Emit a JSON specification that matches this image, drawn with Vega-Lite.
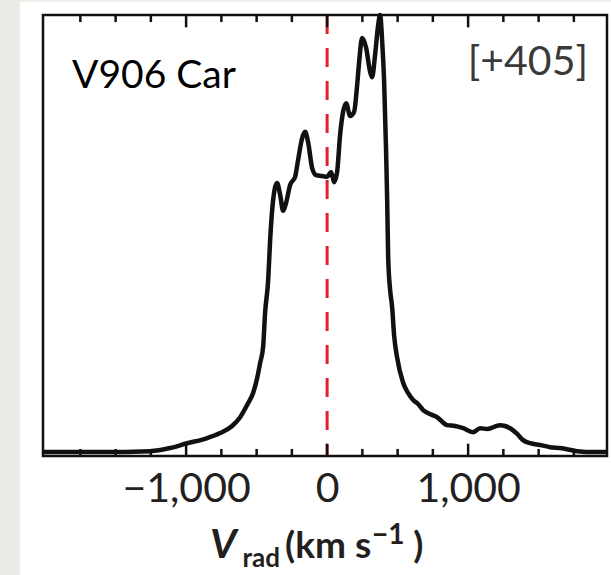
{
  "$schema": "https://vega.github.io/schema/vega-lite/v6.json",
  "width": 564,
  "height": 441,
  "autosize": "none",
  "padding": {"left": 43, "top": 15, "right": 4, "bottom": 119},
  "background": "#ECEBE6",
  "config": {"view": {"stroke": null, "fill": null}},
  "resolve": {"axis": {"x": "independent"}},
  "datasets": {
    "minorTicks": [
      {"tick": -1750}, {"tick": -1500}, {"tick": -1250}, {"tick": -750}, {"tick": -500}, {"tick": -250},
      {"tick": 250}, {"tick": 500}, {"tick": 750}, {"tick": 1250}, {"tick": 1500}, {"tick": 1750}
    ],
    "majorTicks": [{"tick": -1000}, {"tick": 0}, {"tick": 1000}]
  },
  "layer": [
    {
      "data": {"values": [{}]},
      "mark": {"type": "rect", "fill": "white", "stroke": null},
      "encoding": {
        "x": {"datum": -2177, "type": "quantitative", "axis": null, "scale": {"domain": [-2015, 1985], "nice": false}},
        "x2": {"datum": 2100},
        "y": {"datum": 1.03, "type": "quantitative", "axis": null, "scale": {"domain": [0, 1], "nice": false, "zero": false}},
        "y2": {"datum": -0.3}
      }
    },
    {
      "data": {"values": [{}]},
      "mark": {"type": "rule", "color": "#E3202A", "strokeWidth": 3, "strokeDash": [19, 14]},
      "encoding": {
        "x": {"datum": 0, "type": "quantitative", "axis": null}
      }
    },
    {
      "data": {"values": [
        {"v": -2015, "f": 0.009}, {"v": -1610, "f": 0.009}, {"v": -1255, "f": 0.011},
        {"v": -1113, "f": 0.018}, {"v": -993, "f": 0.029}, {"v": -865, "f": 0.039},
        {"v": -759, "f": 0.052}, {"v": -674, "f": 0.068}, {"v": -617, "f": 0.088},
        {"v": -567, "f": 0.116}, {"v": -525, "f": 0.143}, {"v": -496, "f": 0.177},
        {"v": -475, "f": 0.211}, {"v": -454, "f": 0.247}, {"v": -440, "f": 0.324},
        {"v": -418, "f": 0.399}, {"v": -404, "f": 0.49}, {"v": -383, "f": 0.58},
        {"v": -355, "f": 0.619}, {"v": -333, "f": 0.592}, {"v": -312, "f": 0.556},
        {"v": -291, "f": 0.574}, {"v": -262, "f": 0.615}, {"v": -227, "f": 0.633},
        {"v": -206, "f": 0.671}, {"v": -177, "f": 0.721}, {"v": -156, "f": 0.735},
        {"v": -135, "f": 0.712}, {"v": -106, "f": 0.653}, {"v": -78, "f": 0.637},
        {"v": -35, "f": 0.635}, {"v": 0, "f": 0.633}, {"v": 28, "f": 0.644},
        {"v": 50, "f": 0.621}, {"v": 71, "f": 0.644}, {"v": 92, "f": 0.728},
        {"v": 113, "f": 0.78}, {"v": 135, "f": 0.8}, {"v": 163, "f": 0.771},
        {"v": 191, "f": 0.78}, {"v": 213, "f": 0.841}, {"v": 227, "f": 0.893},
        {"v": 248, "f": 0.948}, {"v": 277, "f": 0.925}, {"v": 305, "f": 0.871},
        {"v": 319, "f": 0.859}, {"v": 340, "f": 0.909}, {"v": 362, "f": 0.977},
        {"v": 376, "f": 1.0}, {"v": 390, "f": 0.943}, {"v": 404, "f": 0.853},
        {"v": 418, "f": 0.694}, {"v": 426, "f": 0.58}, {"v": 433, "f": 0.451},
        {"v": 447, "f": 0.376}, {"v": 461, "f": 0.338}, {"v": 475, "f": 0.274},
        {"v": 496, "f": 0.224}, {"v": 539, "f": 0.166}, {"v": 574, "f": 0.143},
        {"v": 610, "f": 0.127}, {"v": 645, "f": 0.118}, {"v": 681, "f": 0.104},
        {"v": 730, "f": 0.095}, {"v": 780, "f": 0.088}, {"v": 851, "f": 0.07},
        {"v": 908, "f": 0.068}, {"v": 965, "f": 0.063}, {"v": 1035, "f": 0.054},
        {"v": 1085, "f": 0.063}, {"v": 1135, "f": 0.061}, {"v": 1184, "f": 0.066},
        {"v": 1227, "f": 0.07}, {"v": 1262, "f": 0.068}, {"v": 1298, "f": 0.063},
        {"v": 1348, "f": 0.05}, {"v": 1390, "f": 0.036}, {"v": 1440, "f": 0.029},
        {"v": 1511, "f": 0.025}, {"v": 1582, "f": 0.02}, {"v": 1652, "f": 0.018},
        {"v": 1773, "f": 0.011}, {"v": 1901, "f": 0.009}, {"v": 1985, "f": 0.009}
      ]},
      "mark": {"type": "line", "color": "#111111", "strokeWidth": 4.5, "strokeJoin": "round", "interpolate": "monotone"},
      "encoding": {
        "x": {
          "field": "v", "type": "quantitative",
          "scale": {"domain": [-2015, 1985], "nice": false},
          "axis": {
            "orient": "bottom", "zindex": 2,
            "values": [-1000, 0, 1000],
            "domain": false, "grid": false, "title": null, "ticks": false, "tickSize": 0,
            "format": ",d",
            "labelFont": "Lato", "labelFontSize": 41, "labelColor": "#231F20",
            "labelPadding": 13, "labelFlush": false, "labelOverlap": false
          }
        },
        "y": {"field": "f", "type": "quantitative", "axis": null, "scale": {"domain": [0, 1], "nice": false, "zero": false}}
      }
    },
    {
      "data": {"name": "minorTicks"},
      "mark": {"type": "rule", "color": "#111111", "strokeWidth": 2.5},
      "encoding": {
        "x": {"field": "tick", "type": "quantitative", "axis": null},
        "y": {"datum": 0, "type": "quantitative", "axis": null},
        "y2": {"datum": 0.016}
      }
    },
    {
      "data": {"name": "majorTicks"},
      "mark": {"type": "rule", "color": "#111111", "strokeWidth": 2.5},
      "encoding": {
        "x": {"field": "tick", "type": "quantitative", "axis": null},
        "y": {"datum": 0, "type": "quantitative", "axis": null},
        "y2": {"datum": 0.028}
      }
    },
    {
      "data": {"name": "minorTicks"},
      "mark": {"type": "rule", "color": "#111111", "strokeWidth": 2.5},
      "encoding": {
        "x": {"field": "tick", "type": "quantitative", "axis": null},
        "y": {"datum": 1, "type": "quantitative", "axis": null},
        "y2": {"datum": 0.984}
      }
    },
    {
      "data": {"name": "majorTicks"},
      "mark": {"type": "rule", "color": "#111111", "strokeWidth": 2.5},
      "encoding": {
        "x": {"field": "tick", "type": "quantitative", "axis": null},
        "y": {"datum": 1, "type": "quantitative", "axis": null},
        "y2": {"datum": 0.972}
      }
    },
    {
      "data": {"values": [{}]},
      "mark": {"type": "rect", "filled": false, "stroke": "#111111", "strokeWidth": 2.5},
      "encoding": {
        "x": {"datum": -2015, "type": "quantitative", "axis": null},
        "x2": {"datum": 1985},
        "y": {"datum": 0, "type": "quantitative", "axis": null},
        "y2": {"datum": 1}
      }
    },
    {
      "data": {"values": [{}]},
      "mark": {"type": "text", "text": "V906 Car", "font": "Lato", "fontSize": 39, "color": "#000000", "align": "left", "baseline": "alphabetic"},
      "encoding": {
        "x": {"datum": -1809, "type": "quantitative", "axis": null},
        "y": {"datum": 0.834, "type": "quantitative", "axis": null}
      }
    },
    {
      "data": {"values": [{}]},
      "mark": {"type": "text", "text": "[+405]", "font": "Lato", "fontSize": 41, "color": "#3A3A3A", "align": "right", "baseline": "alphabetic"},
      "encoding": {
        "x": {"datum": 1850, "type": "quantitative", "axis": null},
        "y": {"datum": 0.864, "type": "quantitative", "axis": null}
      }
    },
    {
      "data": {"values": [{}]},
      "mark": {"type": "text", "text": "V", "font": "Lato", "fontSize": 41, "fontWeight": "bold", "fontStyle": "italic", "color": "#231F20", "align": "left", "baseline": "alphabetic"},
      "encoding": {
        "x": {"datum": -830, "type": "quantitative", "axis": null},
        "y": {"datum": -0.231, "type": "quantitative", "axis": null}
      }
    },
    {
      "data": {"values": [{}]},
      "mark": {"type": "text", "text": "rad", "font": "Lato", "fontSize": 26, "fontWeight": "bold", "color": "#231F20", "align": "left", "baseline": "alphabetic"},
      "encoding": {
        "x": {"datum": -600, "type": "quantitative", "axis": null},
        "y": {"datum": -0.252, "type": "quantitative", "axis": null}
      }
    },
    {
      "data": {"values": [{}]},
      "mark": {"type": "text", "text": "(km s", "font": "Lato", "fontSize": 37, "fontWeight": "bold", "color": "#231F20", "align": "left", "baseline": "alphabetic"},
      "encoding": {
        "x": {"datum": -298, "type": "quantitative", "axis": null},
        "y": {"datum": -0.231, "type": "quantitative", "axis": null}
      }
    },
    {
      "data": {"values": [{}]},
      "mark": {"type": "text", "text": "−1", "font": "Lato", "fontSize": 28, "fontWeight": "bold", "color": "#231F20", "align": "left", "baseline": "alphabetic"},
      "encoding": {
        "x": {"datum": 318, "type": "quantitative", "axis": null},
        "y": {"datum": -0.2, "type": "quantitative", "axis": null}
      }
    },
    {
      "data": {"values": [{}]},
      "mark": {"type": "text", "text": ")", "font": "Lato", "fontSize": 37, "fontWeight": "bold", "color": "#231F20", "align": "left", "baseline": "alphabetic"},
      "encoding": {
        "x": {"datum": 610, "type": "quantitative", "axis": null},
        "y": {"datum": -0.231, "type": "quantitative", "axis": null}
      }
    }
  ]
}
